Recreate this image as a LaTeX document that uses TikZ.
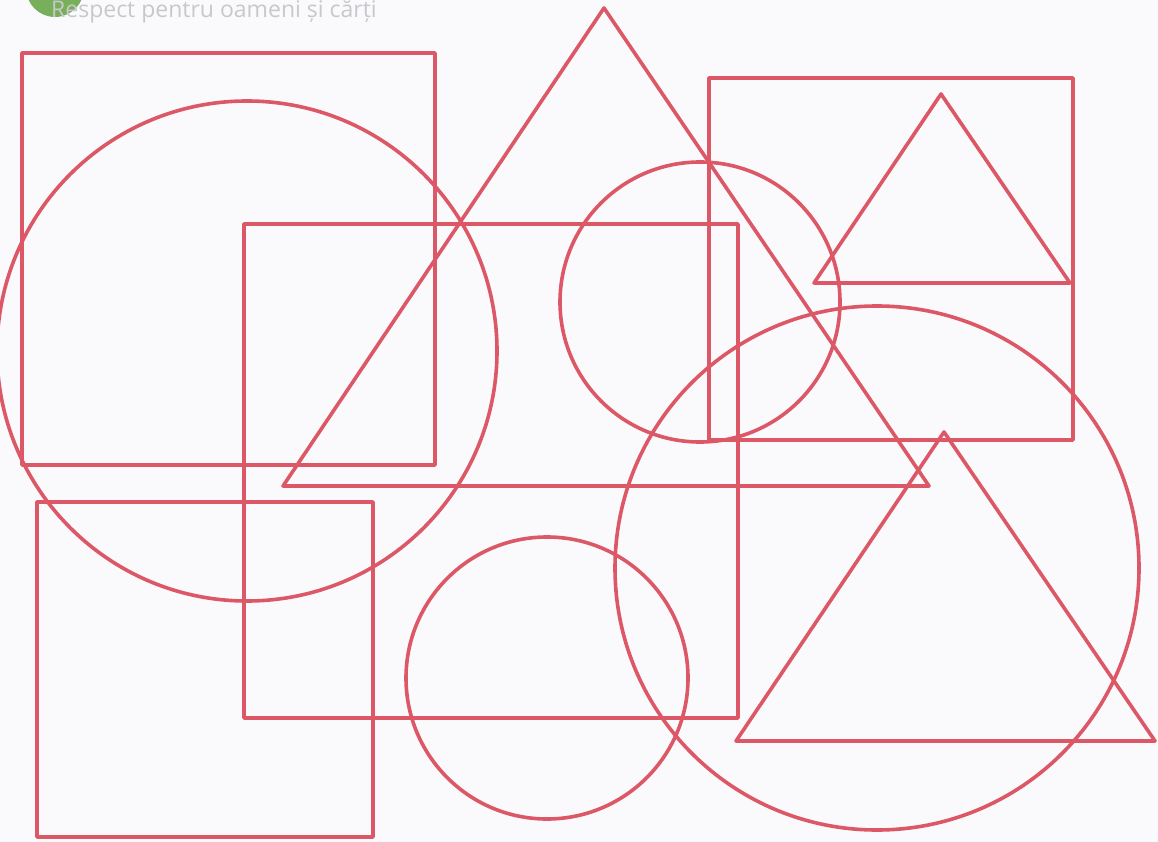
\documentclass[tikz,border=0pt]{standalone}
\usepackage{fontspec}
\setmainfont{Open Sans}
\definecolor{shred}{RGB}{221,88,102}
\definecolor{bgc}{RGB}{250,250,253}
\definecolor{txtgrey}{RGB}{200,200,204}
\definecolor{badge}{RGB}{120,175,90}
\tikzset{shape line/.style={draw=shred,line width=3.6pt,line join=round}}
\begin{document}
\begin{tikzpicture}[x=1pt,y=-1pt]
\useasboundingbox (0,0) rectangle (1158,842);
\fill[bgc] (0,0) rectangle (1158,842);
% badge and header text
\begin{scope}
\clip (0,0) rectangle (1158,842);
\fill[badge] (55,-12) circle (29);
\end{scope}
\node[anchor=west,text=txtgrey,font=\fontsize{23}{26}\selectfont,inner sep=0pt] (hdr) at (51,12) {Respect pentru oameni și cărți};
% squares / rectangles
\draw[shape line] (22,53) rectangle (435,465);
\draw[shape line] (244,224) rectangle (738,718);
\draw[shape line] (709,78) rectangle (1073,440);
\draw[shape line] (37,502) rectangle (373,837);
% circles
\draw[shape line] (247,351) circle (250);
\draw[shape line] (700,302) circle (140);
\draw[shape line] (877,568) circle (262);
\draw[shape line] (547,678) circle (141);
% triangles
\draw[shape line] (604,8) -- (929,486) -- (283,486) -- cycle;
\draw[shape line] (941,94) -- (1070,283) -- (814,283) -- cycle;
\draw[shape line] (944,432) -- (1155,741) -- (736,741) -- cycle;
\end{tikzpicture}
\end{document}
